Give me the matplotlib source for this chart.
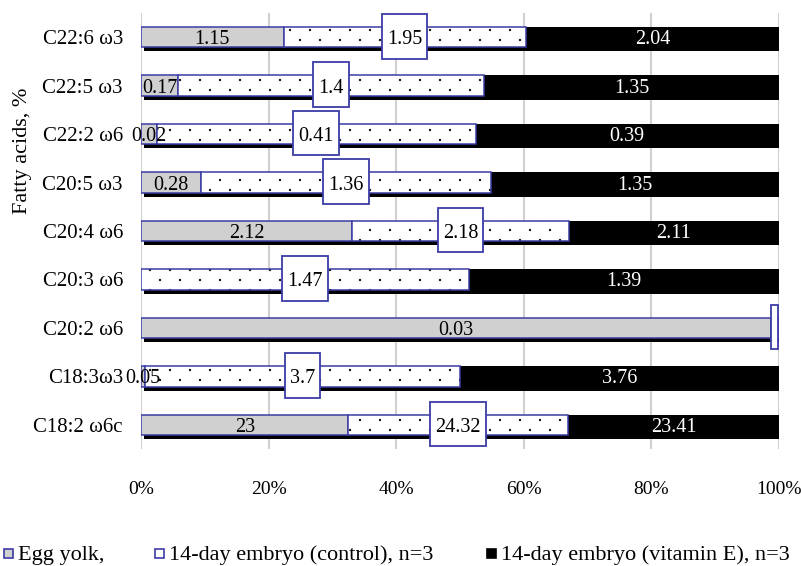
import matplotlib
matplotlib.use("Agg")
import matplotlib.pyplot as plt
import matplotlib.hatch as mhatch
from matplotlib.path import Path
from matplotlib.patches import Rectangle
from matplotlib.transforms import ScaledTranslation
import numpy as np

plt.rcParams['font.family'] = ['Liberation Serif', 'DejaVu Serif']
plt.rcParams['hatch.linewidth'] = 0.5

# Fatty acid composition (% of total) for three groups
acids = ["C18:2 ω6c", "C18:3ω3", "C20:2 ω6", "C20:3 ω6", "C20:4 ω6",
         "C20:5 ω3", "C22:2 ω6", "C22:5 ω3", "C22:6 ω3"]
egg_yolk = [23, 0.05, 0.03, 0, 2.12, 0.28, 0.02, 0.17, 1.15]
embryo_control = [24.32, 3.7, 0.0004, 1.47, 2.18, 1.36, 0.41, 1.4, 1.95]
embryo_vit_e = [23.41, 3.76, 0, 1.39, 2.11, 1.35, 0.39, 1.35, 2.04]
x_ticks = [0, 20, 40, 60, 80, 100]
legend_labels = ["Egg yolk,", "14-day embryo (control), n=3",
                 "14-day embryo (vitamin E), n=3"]

BLUE = '#3c3ca6'
GRAY = '#d0d0d0'


class SparseDots(mhatch.HatchPatternBase):
    """Sparse staggered dot fill used for the '.' hatch."""

    def __init__(self, hatch, density):
        circle = Path.unit_circle()
        self.shape_vertices = circle.vertices
        self.shape_codes = circle.codes
        self.radius = 0.008
        cols, rows = 5, 10
        pts = []
        if hatch.count('.') > 0:
            for row in range(rows + 1):
                yv = row / rows
                if row % 2 == 0:
                    xs = np.linspace(0, 1, cols + 1)
                else:
                    xs = (np.arange(cols) + 0.5) / cols
                pts.extend((xv, yv) for xv in xs)
        self.pts = pts
        self.num_vertices = len(pts) * len(self.shape_vertices)

    def set_vertices_and_codes(self, vertices, codes):
        n = len(self.shape_vertices)
        for k, (xv, yv) in enumerate(self.pts):
            vertices[k * n:(k + 1) * n] = self.shape_vertices * self.radius + (xv, yv)
            codes[k * n:(k + 1) * n] = self.shape_codes


mhatch._hatch_types = [SparseDots if t is mhatch.SmallFilledCircles else t
                       for t in mhatch._hatch_types]


def label_text(v):
    return f"{v:g}" if v >= 0.01 else ""


egg = np.array(egg_yolk, dtype=float)
ctrl = np.array(embryo_control, dtype=float)
vit = np.array(embryo_vit_e, dtype=float)
total = egg + ctrl + vit
egg_p = egg / total * 100
ctrl_p = ctrl / total * 100
vit_p = vit / total * 100

fig = plt.figure(figsize=(8.01, 5.66), dpi=100)
ax = fig.add_axes([141 / 801, 1 - 449 / 566, 638 / 801, 436 / 566])
y = np.arange(len(acids))
h = 0.42

# drop shadow behind each stacked bar
shadow = ax.barh(y, egg_p + ctrl_p + vit_p, height=h, color='black', zorder=1)
shift = ScaledTranslation(3 / 100, -4 / 100, fig.dpi_scale_trans)
for p in shadow:
    p.set_transform(ax.transData + shift)

ax.barh(y, egg_p, height=h, color=GRAY, edgecolor=BLUE, linewidth=1.1, zorder=2)
ax.barh(y, ctrl_p, left=egg_p, height=h, color='white', edgecolor='black',
        hatch='.', linewidth=0, zorder=2)
ax.barh(y, ctrl_p, left=egg_p, height=h, fill=False, edgecolor=BLUE,
        linewidth=1.1, zorder=3)
ax.barh(y, vit_p, left=egg_p + ctrl_p, height=h, color='black', zorder=2)

FS = 14.5
for i in range(len(acids)):
    if egg[i] > 0:
        ax.text(egg_p[i] / 2, y[i], label_text(egg[i]), ha='center',
                va='center_baseline', fontsize=FS, color='black', zorder=6)
    if vit[i] > 0:
        ax.text(egg_p[i] + ctrl_p[i] + vit_p[i] / 2, y[i], label_text(vit[i]),
                ha='center', va='center_baseline', fontsize=FS, color='white',
                zorder=6)

ctrl_texts = []
for i in range(len(acids)):
    if ctrl[i] > 0:
        t = ax.text(egg_p[i] + ctrl_p[i] / 2, y[i], label_text(ctrl[i]),
                    ha='center', va='center_baseline', fontsize=FS,
                    color='black', zorder=6)
        ctrl_texts.append((i, t))

ax.set_xlim(0, 100)
ax.set_ylim(-0.5, len(acids) - 0.5)
ax.set_xticks(x_ticks)
ax.set_xticklabels([f"{v}%" for v in x_ticks])
ax.set_yticks(y)
ax.set_yticklabels(acids)
ax.tick_params(axis='both', length=0)
ax.tick_params(axis='y', pad=13, labelsize=15)
ax.tick_params(axis='x', pad=23, labelsize=14)
for s in ax.spines.values():
    s.set_visible(False)
ax.xaxis.grid(True, color='#d0d0d0', linewidth=1.5)
ax.set_axisbelow(True)

# white boxes behind the control-group labels
fig.canvas.draw()
renderer = fig.canvas.get_renderer()
px_per_unit = ax.get_window_extent().width / 100.0
box_h = 0.92
for i, t in ctrl_texts:
    w_px = t.get_window_extent(renderer).width if t.get_text() else 0
    w = (w_px + 10) / px_per_unit
    cx = egg_p[i] + ctrl_p[i] / 2
    if not t.get_text():
        w = 7 / px_per_unit
        cx = min(cx, 100 - w / 2)
    ax.add_patch(Rectangle((cx - w / 2, y[i] - box_h / 2 + 0.02), w, box_h,
                           facecolor='white', edgecolor=BLUE, linewidth=1.3,
                           zorder=5, clip_on=False))

fig.text(23 / 801, 1 - 151 / 566, "Fatty acids, %", rotation=90,
         ha='center', va='center', fontsize=16)

# legend along the bottom
leg_y = 1 - 553 / 566
sq = 9
entries = [(4, GRAY, BLUE), (155, 'white', BLUE), (487, 'black', 'black')]
for (x0, fc, ec), lab in zip(entries, legend_labels):
    fig.patches.append(Rectangle((x0 / 801, leg_y - sq / 2 / 566), sq / 801,
                                 sq / 566, transform=fig.transFigure,
                                 facecolor=fc, edgecolor=ec, linewidth=1.2))
    fig.text((x0 + sq + 5) / 801, leg_y, lab, ha='left', va='center_baseline',
             fontsize=16)

fig.savefig("out.png", dpi=100)
